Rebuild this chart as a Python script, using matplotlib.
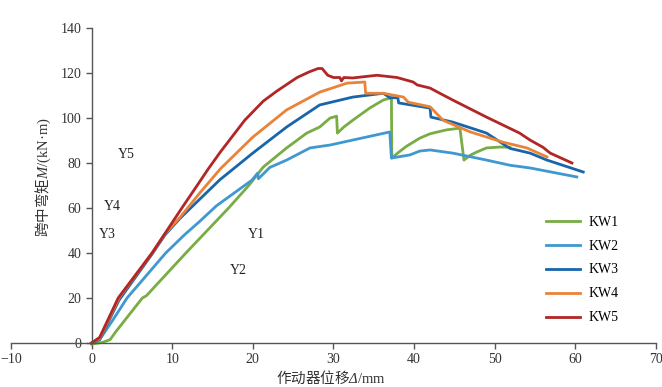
import matplotlib

matplotlib.use("Agg")
import matplotlib.pyplot as plt

plt.rcParams["font.family"] = ["Liberation Serif", "Noto Sans CJK SC"]
plt.rcParams["mathtext.fontset"] = "custom"
plt.rcParams["mathtext.it"] = "Liberation Serif:italic"
plt.rcParams["mathtext.rm"] = "Liberation Serif"
# mathtext draws capital Greek upright under "it", so italic Delta goes via sf
plt.rcParams["mathtext.sf"] = "Liberation Serif:italic"

# actuator displacement (mm) / midspan moment (kN*m)
kw1_x = [0, 1.4, 2.3, 3.0, 6.3, 6.8, 11.7, 17.0, 19.5, 21.3, 24.2, 26.7, 28.3, 29.6, 30.4,
         30.5, 31.3, 32.4, 34.5, 36.2, 37.2, 37.25, 38.0, 39.1, 40.7, 42.0, 44.0, 45.7,
         46.2, 47.0, 47.8, 49.0, 50.7, 51.9]
kw1_y = [-0.5, 0.3, 1.5, 5, 20, 21, 40, 60, 70, 78.2, 86.7, 93.3, 96, 100, 100.8,
         93.3, 96, 99, 104.4, 108, 109, 82.2, 84.5, 87.5, 91, 93, 94.7, 95.5,
         81.3, 83.5, 84.9, 86.7, 87.1, 87]

kw2_x = [0, 1.0, 2.6, 4.4, 9.2, 11.5, 13.4, 15.5, 18.4, 19.9, 20.6, 20.7, 22.1, 24.2,
         27.1, 29.6, 32.4, 37.0, 37.2, 39.5, 40.7, 42.0, 44.8, 49.0, 51.9, 54.4, 60.2]
kw2_y = [0, 1.5, 10, 20, 40, 48, 54, 61, 68.5, 72.4, 75.5, 73, 78, 81.3,
         86.7, 88, 90.2, 93.8, 82.2, 83.6, 85.3, 85.8, 84.4, 81.3, 79, 77.8, 73.8]

kw3_x = [0, 1.0, 3.4, 7.5, 9.1, 11.0, 13.3, 15.9, 20.0, 24.2, 28.3, 32.4, 36.2, 37.0,
         38.0, 38.1, 42.0, 42.1, 44.8, 49.0, 51.9, 54.4, 56.5, 61.0]
kw3_y = [0, 1.5, 19, 39.5, 48, 55.5, 63.5, 72.5, 84.4, 96, 105.8, 109.3, 111, 109,
         109, 106.7, 104.4, 100.4, 98.2, 93.3, 86.5, 84.4, 81.3, 76]

kw4_x = [0, 1.0, 3.4, 7.5, 9.1, 11.0, 13.5, 16.0, 20.0, 24.2, 28.3, 31.7, 33.9, 34.0,
         36.2, 38.7, 39.3, 42.0, 42.8, 43.6, 47.0, 51.0, 54.0, 56.5]
kw4_y = [0, 2, 20, 40, 48.5, 56, 67, 77.5, 91.5, 103.6, 111.5, 115.5, 116, 111,
         111, 109.3, 107, 105, 102, 99, 93.8, 89.3, 86.7, 82.7]

kw5_x = [0, 1.0, 3.3, 7.5, 11.2, 13.0, 14.5, 16.0, 19.0, 21.3, 23.0, 25.5, 27.0, 28.1,
         28.6, 29.3, 30.0, 30.8, 31.0, 31.3, 32.4, 35.4, 37.9, 39.9, 40.4, 42.0, 43.2,
         44.8, 49.0, 53.1, 54.4, 56.0, 56.9, 59.6]
kw5_y = [0, 2.5, 20, 40, 60, 69.5, 77.5, 85, 99, 107.5, 112, 118, 120.5, 122,
         122, 119, 118, 118, 116.5, 118, 117.8, 119, 118, 116, 114.7, 113.3, 111,
         108, 100.4, 93.3, 90.2, 87, 84.4, 80]

series = [
    ("KW1", kw1_x, kw1_y, "#78AC45"),
    ("KW2", kw2_x, kw2_y, "#3F98D0"),
    ("KW3", kw3_x, kw3_y, "#1766AB"),
    ("KW4", kw4_x, kw4_y, "#EA8338"),
    ("KW5", kw5_x, kw5_y, "#B22626"),
]

# specimen group labels
group_labels = ["Y1", "Y2", "Y3", "Y4", "Y5"]
group_x = [20.5, 18.2, 2.0, 2.6, 4.3]
group_y = [48, 32, 48, 60.5, 83.6]

fig = plt.figure(figsize=(6.62, 3.87), dpi=100)
ax = fig.add_axes([0.0166, 0.0963, 0.974, 0.8313])

for name, xs, ys, color in series:
    ax.plot(xs, ys, color=color, linewidth=2.0, label=name, solid_joinstyle="round")

for text, gx, gy in zip(group_labels, group_x, group_y):
    ax.text(gx, gy, text, ha="center", va="center", fontsize=10, color="#222222")

ax.set_xlim(-10, 70)
ax.set_ylim(-3, 140)
ax.set_xticks(range(-10, 71, 10))
ax.set_yticks(range(0, 141, 20))
ax.set_xticklabels(["\u221210"] + [str(v) for v in range(0, 71, 10)])

for side in ("top", "right"):
    ax.spines[side].set_visible(False)
ax.spines["left"].set_position(("data", 0))
ax.spines["bottom"].set_position(("data", 0))
ax.spines["left"].set_bounds(0, 140)
for side in ("left", "bottom"):
    ax.spines[side].set_color("#555555")
    ax.spines[side].set_linewidth(1.0)
ax.tick_params(direction="out", length=4, width=1.0, color="#555555",
               labelsize=10, labelcolor="#333333")

# CJK text goes through the default (first) family; the Latin bits are math
fig.text(0.066, 0.543, "跨中弯矩$M\\mathrm{/(kN·m)}$", rotation=90, ha="center",
         va="center", fontsize=10.5, color="#333333", family="Noto Sans CJK SC")
fig.text(0.5, 0.01, "作动器位移$\\mathsf{Δ}\\mathrm{/mm}$", ha="center", va="baseline",
         fontsize=10.5, color="#333333", family="Noto Sans CJK SC")

ax.legend(loc="upper left", bbox_to_anchor=(0.81, 0.456), frameon=False,
          handlelength=2.5, handletextpad=0.6, labelspacing=0.79, fontsize=10)

fig.savefig("out.png", dpi=100)
